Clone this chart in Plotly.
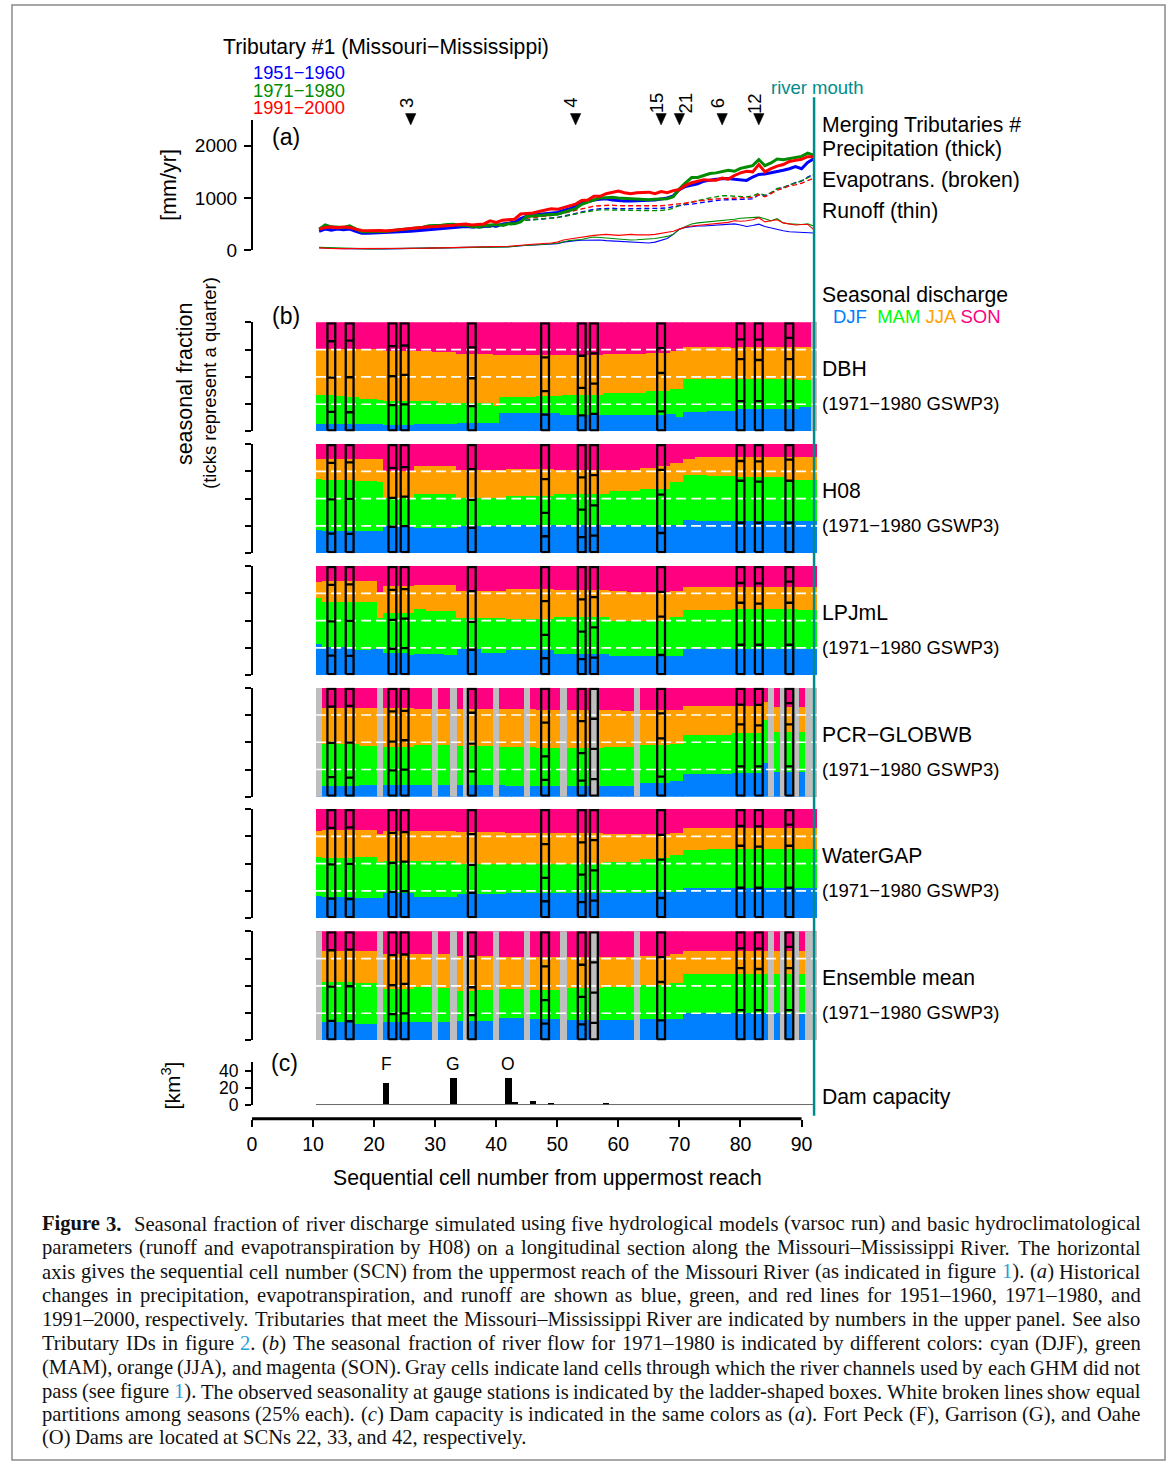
import plotly.graph_objects as go

W, H = 1171, 1476
def PX(p): return p / W
def PY(p): return 1 - p / H

# ---------------- data ----------------
scn = list(range(11, 93))

# (a) precipitation / evapotranspiration / runoff [mm/yr], SCN 11..92
prec_5160 = [360,400,380,400,390,400,360,320,320,325,
             330,330,340,345,350,360,370,380,395,400,
             410,420,430,440,450,440,440,450,470,460,
             495,510,530,600,650,670,680,700,710,720,
             760,790,840,900,930,960,975,985,960,945,
             940,940,940,950,955,960,980,1000,1040,1160,
             1220,1250,1270,1320,1340,1360,1365,1370,1360,1350,
             1335,1400,1450,1460,1480,1510,1530,1560,1600,1560,
             1680,1750]
prec_7180 = [400,483,444,444,432,464,413,349,349,349,
             362,356,375,387,400,413,425,438,464,464,
             476,489,495,476,476,451,444,464,476,489,
             476,502,502,540,641,654,667,667,679,686,
             718,749,794,876,921,972,1003,1003,1010,997,
             991,972,965,965,965,972,972,984,1022,1175,
             1289,1391,1391,1429,1467,1480,1505,1530,1511,1568,
             1594,1619,1733,1619,1670,1746,1733,1759,1784,1797,
             1860,1822]
prec_9100 = [400,430,440,425,440,430,400,375,370,375,
             375,365,380,390,400,410,425,430,445,450,
             455,460,475,490,500,480,485,500,560,530,
             570,580,590,690,700,710,740,760,790,780,
             810,850,880,950,960,1030,1030,1080,1110,1130,
             1100,1080,1100,1110,1110,1080,1120,1100,1140,1160,
             1240,1290,1320,1350,1340,1340,1380,1360,1430,1480,
             1510,1500,1640,1500,1560,1610,1640,1700,1720,1740,
             1790,1790]
et_5160 = [370,400,395,390,395,400,375,345,335,340,
           345,350,355,365,375,385,395,405,415,420,
           425,430,440,445,450,440,430,440,450,445,
           470,490,510,560,575,585,590,600,610,625,
           650,670,700,730,760,780,790,800,800,790,
           790,790,790,790,790,795,800,810,830,860,
           870,880,900,920,940,950,960,965,970,970,
           975,980,1060,1040,1090,1170,1200,1250,1290,1320,
           1400,1450]
et_7180 = [380,420,410,400,400,410,380,350,340,345,
           350,355,360,370,380,390,400,410,420,420,
           425,430,440,445,450,430,420,430,440,440,
           460,480,500,560,570,575,580,590,600,620,
           640,660,690,720,740,760,770,770,765,760,
           760,760,760,755,755,755,760,770,800,860,
           890,920,950,980,1000,1020,1040,1040,1030,1020,
           1020,1040,1090,1050,1100,1180,1200,1250,1280,1330,
           1390,1440]
et_9100 = [380,410,410,405,400,405,385,360,355,360,
           365,370,380,390,400,410,420,430,440,440,
           445,450,460,470,480,460,455,470,490,480,
           510,530,550,600,610,620,630,640,660,680,
           700,730,760,790,820,840,850,855,860,850,
           850,845,845,845,845,850,850,860,870,880,
           900,920,940,960,970,980,985,990,995,1000,
           1005,1010,1060,1020,1080,1150,1180,1230,1250,1280,
           1330,1380]
ro_5160 = [45,35,30,28,25,22,20,18,18,18,
           20,20,22,22,24,25,26,28,30,30,
           32,34,35,36,38,40,40,42,44,45,
           50,55,65,80,85,90,95,100,110,120,
           150,170,180,185,190,195,190,180,175,170,
           165,160,150,145,135,150,180,220,300,400,
           430,450,460,460,470,480,490,500,500,480,
           450,470,495,450,420,400,370,350,345,345,
           340,325]
ro_7180 = [50,45,40,35,30,30,25,20,20,20,
           22,22,24,25,26,27,28,30,30,32,
           33,35,36,38,40,40,42,44,46,48,
           55,60,70,85,90,95,100,110,120,130,
           160,180,190,200,230,250,240,230,220,210,
           200,190,195,200,210,220,240,260,300,400,
           450,500,520,530,540,550,560,570,590,610,
           620,620,630,600,560,600,520,500,490,490,
           500,460]
ro_9100 = [40,30,28,25,25,22,20,20,20,22,
           22,24,25,26,28,30,32,34,36,38,
           40,42,44,46,48,50,52,55,58,60,
           65,70,80,95,100,110,115,120,135,150,
           190,210,230,250,270,280,290,300,290,280,
           290,300,290,285,290,300,320,330,360,400,
           440,460,470,480,490,500,520,530,560,550,
           560,580,620,540,560,580,520,500,480,490,
           490,390]

trib_ids = ["3", "4", "15", "21", "6", "12"]
trib_scn = [26, 53, 67, 70, 77, 83]
trib_label_shift = [-5, -5, -5, 6, -5, -5]

# (b) cumulative seasonal fractions (DJF, DJF+MAM, DJF+MAM+JJA), SCN 11..92
dbh_djf = [0.064,0.064,0.064,0.064,0.064,0.064,0.064,0.064,0.064,0.064,
           0.064,0.058,0.058,0.058,0.058,0.058,0.064,0.064,0.064,0.064,
           0.064,0.064,0.064,0.076,0.076,0.076,0.076,0.076,0.076,0.076,
           0.167,0.167,0.167,0.167,0.167,0.167,0.167,0.167,0.167,0.167,
           0.152,0.152,0.152,0.152,0.152,0.152,0.152,0.152,0.145,0.145,
           0.145,0.145,0.145,0.145,0.145,0.145,0.145,0.155,0.155,0.130,
           0.173,0.173,0.173,0.173,0.182,0.182,0.182,0.182,0.182,0.206,
           0.206,0.206,0.206,0.206,0.206,0.206,0.206,0.206,0.206,0.218,
           0.218,0.218]
dbh_djf_mam = [0.327,0.327,0.327,0.321,0.321,0.309,0.309,0.297,0.297,0.297,
               0.282,0.273,0.273,0.273,0.273,0.273,0.279,0.279,0.279,0.279,
               0.261,0.261,0.261,0.255,0.255,0.255,0.255,0.255,0.255,0.230,
               0.312,0.312,0.312,0.312,0.312,0.312,0.321,0.321,0.321,0.321,
               0.333,0.333,0.333,0.333,0.333,0.333,0.333,0.345,0.345,0.345,
               0.352,0.352,0.352,0.352,0.370,0.370,0.370,0.370,0.388,0.388,
               0.479,0.479,0.479,0.479,0.479,0.479,0.479,0.479,0.479,0.479,
               0.479,0.479,0.479,0.479,0.479,0.479,0.479,0.479,0.479,0.473,
               0.473,0.473]
dbh_djf_mam_jja = [0.755,0.755,0.755,0.755,0.755,0.755,0.755,0.755,0.755,0.755,
                   0.755,0.736,0.736,0.736,0.736,0.736,0.733,0.733,0.733,0.721,
                   0.721,0.721,0.721,0.709,0.709,0.709,0.709,0.709,0.709,0.700,
                   0.700,0.700,0.700,0.700,0.700,0.700,0.700,0.700,0.700,0.700,
                   0.700,0.700,0.700,0.700,0.700,0.700,0.700,0.709,0.709,0.709,
                   0.709,0.709,0.709,0.709,0.715,0.715,0.715,0.715,0.733,0.733,
                   0.773,0.773,0.773,0.773,0.773,0.773,0.773,0.773,0.764,0.773,
                   0.773,0.773,0.773,0.773,0.773,0.773,0.773,0.773,0.773,0.773,
                   0.773,0.773]
dbh_gray = [92]

h08_djf = [0.215,0.206,0.206,0.206,0.206,0.206,0.206,0.206,0.206,0.206,
           0.206,0.248,0.248,0.248,0.248,0.248,0.227,0.227,0.227,0.227,
           0.227,0.227,0.227,0.248,0.248,0.248,0.248,0.248,0.248,0.248,
           0.248,0.258,0.258,0.258,0.258,0.258,0.258,0.258,0.258,0.258,
           0.258,0.258,0.258,0.258,0.258,0.258,0.258,0.258,0.258,0.258,
           0.258,0.258,0.258,0.258,0.258,0.258,0.258,0.258,0.258,0.258,
           0.306,0.306,0.297,0.297,0.297,0.297,0.297,0.297,0.297,0.297,
           0.297,0.297,0.297,0.297,0.297,0.297,0.297,0.297,0.297,0.297,
           0.297,0.297]
h08_djf_mam = [0.679,0.667,0.667,0.667,0.667,0.667,0.658,0.658,0.658,0.658,
               0.652,0.503,0.503,0.503,0.503,0.503,0.539,0.539,0.539,0.539,
               0.539,0.539,0.539,0.506,0.506,0.506,0.506,0.506,0.506,0.506,
               0.506,0.521,0.521,0.521,0.521,0.521,0.521,0.521,0.521,0.545,
               0.545,0.545,0.545,0.545,0.545,0.545,0.545,0.545,0.570,0.570,
               0.570,0.570,0.570,0.588,0.588,0.588,0.588,0.588,0.652,0.652,
               0.718,0.718,0.718,0.718,0.703,0.703,0.703,0.703,0.703,0.697,
               0.697,0.697,0.697,0.697,0.697,0.697,0.697,0.673,0.673,0.673,
               0.673,0.673]
h08_djf_mam_jja = [0.861,0.861,0.861,0.861,0.861,0.861,0.861,0.861,0.861,0.861,
                   0.861,0.755,0.755,0.755,0.755,0.755,0.794,0.794,0.794,0.794,
                   0.794,0.794,0.794,0.764,0.764,0.764,0.764,0.764,0.764,0.764,
                   0.764,0.767,0.767,0.767,0.767,0.767,0.767,0.767,0.767,0.761,
                   0.761,0.761,0.761,0.761,0.761,0.761,0.761,0.761,0.761,0.761,
                   0.761,0.761,0.761,0.779,0.779,0.779,0.794,0.794,0.827,0.827,
                   0.858,0.858,0.879,0.879,0.879,0.879,0.879,0.879,0.879,0.879,
                   0.879,0.879,0.879,0.879,0.879,0.879,0.879,0.879,0.879,0.879,
                   0.879,0.879]
h08_gray = []

lpj_djf = [0.288,0.258,0.258,0.258,0.258,0.258,0.227,0.227,0.227,0.242,
           0.242,0.206,0.206,0.206,0.206,0.188,0.197,0.197,0.197,0.197,
           0.197,0.182,0.182,0.236,0.236,0.236,0.236,0.206,0.206,0.206,
           0.206,0.227,0.227,0.227,0.227,0.227,0.227,0.227,0.227,0.197,
           0.197,0.197,0.197,0.197,0.197,0.197,0.197,0.197,0.173,0.173,
           0.173,0.173,0.173,0.173,0.173,0.179,0.179,0.179,0.179,0.179,
           0.236,0.236,0.236,0.236,0.236,0.236,0.236,0.236,0.236,0.236,
           0.236,0.236,0.236,0.236,0.236,0.236,0.236,0.236,0.236,0.236,
           0.236,0.236]
lpj_djf_mam = [0.703,0.667,0.667,0.667,0.667,0.667,0.667,0.667,0.667,0.667,
               0.521,0.567,0.567,0.567,0.567,0.567,0.606,0.606,0.591,0.591,
               0.591,0.591,0.591,0.521,0.521,0.521,0.521,0.521,0.521,0.521,
               0.521,0.515,0.515,0.515,0.515,0.515,0.515,0.515,0.515,0.530,
               0.530,0.530,0.530,0.530,0.530,0.530,0.530,0.530,0.500,0.500,
               0.500,0.500,0.500,0.500,0.500,0.500,0.500,0.500,0.530,0.530,
               0.597,0.597,0.597,0.597,0.597,0.597,0.597,0.597,0.606,0.606,
               0.606,0.606,0.606,0.606,0.606,0.606,0.606,0.606,0.606,0.594,
               0.594,0.594]
lpj_djf_mam_jja = [0.852,0.861,0.861,0.861,0.861,0.861,0.861,0.861,0.861,0.861,
                   0.758,0.818,0.818,0.818,0.818,0.818,0.824,0.824,0.824,0.824,
                   0.824,0.824,0.824,0.773,0.773,0.773,0.773,0.773,0.773,0.773,
                   0.773,0.788,0.788,0.788,0.788,0.788,0.788,0.788,0.788,0.782,
                   0.782,0.782,0.782,0.782,0.782,0.782,0.782,0.782,0.770,0.770,
                   0.770,0.758,0.758,0.758,0.758,0.758,0.758,0.758,0.770,0.770,
                   0.803,0.803,0.803,0.803,0.803,0.803,0.803,0.803,0.803,0.806,
                   0.806,0.806,0.806,0.806,0.806,0.806,0.806,0.806,0.806,0.806,
                   0.806,0.806]
lpj_gray = []

pcr_djf = [0.103,0.103,0.103,0.103,0.103,0.103,0.103,0.112,0.112,0.112,
           0.112,0.112,0.112,0.112,0.112,0.112,0.112,0.112,0.112,0.112,
           0.112,0.112,0.112,0.112,0.112,0.112,0.112,0.112,0.112,0.112,
           0.112,0.106,0.106,0.106,0.106,0.106,0.106,0.106,0.106,0.106,
           0.106,0.106,0.106,0.106,0.106,0.106,0.106,0.106,0.106,0.106,
           0.106,0.106,0.106,0.127,0.127,0.133,0.133,0.133,0.148,0.148,
           0.212,0.212,0.212,0.212,0.212,0.212,0.212,0.212,0.221,0.221,
           0.221,0.221,0.221,0.309,0.230,0.230,0.230,0.230,0.230,0.230,
           0.230,0.230]
pcr_djf_mam = [0.491,0.491,0.491,0.491,0.491,0.491,0.491,0.473,0.473,0.473,
               0.473,0.461,0.461,0.461,0.461,0.461,0.476,0.476,0.476,0.476,
               0.476,0.476,0.476,0.467,0.467,0.467,0.467,0.467,0.467,0.467,
               0.461,0.461,0.461,0.461,0.461,0.461,0.452,0.452,0.452,0.452,
               0.452,0.452,0.452,0.452,0.452,0.452,0.452,0.461,0.461,0.461,
               0.461,0.461,0.482,0.482,0.482,0.482,0.482,0.482,0.491,0.491,
               0.570,0.570,0.570,0.570,0.570,0.570,0.570,0.570,0.588,0.588,
               0.588,0.588,0.588,0.703,0.594,0.594,0.594,0.594,0.594,0.594,
               0.594,0.594]
pcr_djf_mam_jja = [0.815,0.815,0.815,0.815,0.815,0.815,0.815,0.815,0.815,0.815,
                   0.815,0.818,0.818,0.818,0.818,0.818,0.803,0.803,0.803,0.803,
                   0.803,0.803,0.803,0.803,0.803,0.803,0.803,0.803,0.803,0.803,
                   0.803,0.803,0.803,0.803,0.803,0.803,0.800,0.800,0.800,0.800,
                   0.800,0.800,0.800,0.800,0.800,0.800,0.800,0.800,0.800,0.800,
                   0.788,0.788,0.797,0.797,0.797,0.797,0.797,0.797,0.797,0.797,
                   0.833,0.833,0.833,0.833,0.833,0.833,0.833,0.833,0.833,0.833,
                   0.833,0.833,0.833,0.870,0.830,0.830,0.830,0.830,0.830,0.830,
                   0.830,0.830]
pcr_gray = [11, 21, 30, 33, 35, 40, 45, 51, 56, 63, 85, 87, 89, 91, 92]

wg_djf = [0.206,0.197,0.197,0.197,0.197,0.197,0.188,0.188,0.188,0.188,
          0.188,0.227,0.227,0.227,0.227,0.227,0.197,0.197,0.197,0.197,
          0.197,0.197,0.197,0.221,0.221,0.221,0.221,0.221,0.221,0.221,
          0.221,0.227,0.227,0.227,0.227,0.227,0.227,0.227,0.227,0.227,
          0.227,0.227,0.227,0.227,0.227,0.227,0.227,0.227,0.227,0.227,
          0.227,0.227,0.227,0.227,0.227,0.236,0.236,0.236,0.236,0.236,
          0.279,0.279,0.279,0.279,0.279,0.279,0.279,0.279,0.279,0.279,
          0.279,0.279,0.279,0.279,0.279,0.279,0.279,0.279,0.279,0.279,
          0.279,0.279]
wg_djf_mam = [0.561,0.552,0.552,0.552,0.552,0.552,0.558,0.558,0.558,0.558,
              0.515,0.521,0.521,0.521,0.521,0.521,0.524,0.524,0.524,0.524,
              0.524,0.524,0.524,0.500,0.500,0.500,0.500,0.500,0.500,0.500,
              0.500,0.494,0.494,0.494,0.494,0.494,0.494,0.494,0.494,0.494,
              0.494,0.494,0.494,0.494,0.494,0.494,0.494,0.515,0.515,0.515,
              0.515,0.515,0.515,0.539,0.539,0.539,0.552,0.552,0.576,0.576,
              0.627,0.627,0.627,0.627,0.636,0.636,0.636,0.636,0.636,0.636,
              0.636,0.636,0.636,0.636,0.636,0.636,0.636,0.636,0.636,0.636,
              0.636,0.636]
wg_djf_mam_jja = [0.797,0.806,0.806,0.806,0.806,0.806,0.806,0.806,0.806,0.806,
                  0.773,0.794,0.794,0.794,0.794,0.794,0.797,0.797,0.797,0.797,
                  0.797,0.797,0.797,0.788,0.788,0.788,0.788,0.788,0.788,0.788,
                  0.788,0.779,0.779,0.779,0.779,0.779,0.779,0.779,0.779,0.779,
                  0.779,0.779,0.779,0.779,0.779,0.779,0.779,0.770,0.770,0.770,
                  0.770,0.770,0.770,0.770,0.770,0.770,0.770,0.770,0.779,0.779,
                  0.830,0.830,0.830,0.830,0.830,0.830,0.830,0.830,0.830,0.830,
                  0.830,0.830,0.830,0.830,0.830,0.830,0.830,0.830,0.830,0.830,
                  0.830,0.830]
wg_gray = []

ens_djf = [0.167,0.167,0.167,0.167,0.167,0.167,0.146,0.146,0.146,0.146,
           0.146,0.167,0.167,0.167,0.167,0.167,0.167,0.167,0.167,0.167,
           0.167,0.167,0.167,0.176,0.176,0.176,0.176,0.176,0.176,0.176,
           0.200,0.200,0.200,0.200,0.200,0.191,0.191,0.191,0.191,0.191,
           0.191,0.182,0.182,0.182,0.182,0.182,0.182,0.182,0.182,0.182,
           0.182,0.182,0.182,0.191,0.191,0.191,0.191,0.191,0.191,0.191,
           0.246,0.246,0.246,0.246,0.246,0.246,0.246,0.246,0.246,0.246,
           0.246,0.246,0.246,0.246,0.246,0.246,0.246,0.246,0.246,0.246,
           0.246,0.246]
ens_djf_mam = [0.532,0.532,0.532,0.532,0.532,0.532,0.526,0.526,0.526,0.526,
               0.526,0.465,0.465,0.465,0.465,0.465,0.489,0.489,0.489,0.489,
               0.480,0.480,0.480,0.450,0.450,0.450,0.456,0.456,0.456,0.456,
               0.465,0.465,0.465,0.465,0.465,0.456,0.456,0.456,0.456,0.456,
               0.456,0.480,0.480,0.480,0.480,0.480,0.480,0.486,0.486,0.486,
               0.486,0.486,0.486,0.502,0.502,0.502,0.502,0.502,0.526,0.526,
               0.602,0.602,0.602,0.602,0.602,0.602,0.602,0.602,0.602,0.602,
               0.602,0.602,0.602,0.602,0.602,0.602,0.602,0.602,0.602,0.602,
               0.602,0.602]
ens_djf_mam_jja = [0.818,0.818,0.818,0.818,0.818,0.818,0.818,0.818,0.818,0.818,
                   0.818,0.790,0.790,0.790,0.790,0.790,0.793,0.793,0.793,0.793,
                   0.793,0.793,0.793,0.769,0.769,0.769,0.769,0.769,0.769,0.769,
                   0.763,0.763,0.763,0.763,0.763,0.763,0.763,0.763,0.763,0.763,
                   0.763,0.763,0.763,0.763,0.763,0.763,0.763,0.763,0.763,0.763,
                   0.763,0.763,0.763,0.769,0.769,0.769,0.769,0.769,0.790,0.790,
                   0.818,0.818,0.818,0.818,0.818,0.818,0.818,0.818,0.818,0.818,
                   0.818,0.818,0.818,0.818,0.818,0.818,0.818,0.818,0.818,0.818,
                   0.818,0.818]
ens_gray = [11, 21, 30, 33, 35, 40, 45, 51, 56, 63, 85, 87, 89, 91, 92]

# observed seasonality at gauge stations (ladder boxes)
obs_scn = [13, 16, 23, 25, 36, 48, 54, 56, 67, 80, 83, 88]
obs_djf = [0.180, 0.176, 0.242, 0.248, 0.233, 0.155, 0.148, 0.161, 0.185, 0.279, 0.279, 0.279]
obs_djf_mam = [0.494, 0.497, 0.506, 0.518, 0.488, 0.370, 0.400, 0.439, 0.536, 0.664, 0.655, 0.664]
obs_djf_mam_jja = [0.827, 0.833, 0.782, 0.788, 0.770, 0.679, 0.694, 0.715, 0.764, 0.845, 0.842, 0.858]

# (c) dam capacity [km3]
dam_scn = [22, 33, 42, 43, 46, 49, 58]
dam_cap = [25, 31, 31, 2.5, 4.5, 1.0, 0.5]
dam_labels = ["F", "G", "O"]
dam_label_scn = [22, 33, 42]

models = ["DBH", "H08", "LPJmL", "PCR\u2212GLOBWB", "WaterGAP", "Ensemble mean"]
model_data = [
    (dbh_djf, dbh_djf_mam, dbh_djf_mam_jja, dbh_gray),
    (h08_djf, h08_djf_mam, h08_djf_mam_jja, h08_gray),
    (lpj_djf, lpj_djf_mam, lpj_djf_mam_jja, lpj_gray),
    (pcr_djf, pcr_djf_mam, pcr_djf_mam_jja, pcr_gray),
    (wg_djf, wg_djf_mam, wg_djf_mam_jja, wg_gray),
    (ens_djf, ens_djf_mam, ens_djf_mam_jja, ens_gray),
]
for arr in [prec_5160, prec_7180, prec_9100, et_5160, et_7180, et_9100,
            ro_5160, ro_7180, ro_9100] + [a for m in model_data for a in m[:3]]:
    assert len(arr) == len(scn), len(arr)

# ---------------- styles ----------------
C_DJF, C_MAM, C_JJA, C_SON = "#0080ff", "#00ff00", "#ffa000", "#ff0080"
C_GRAY = "#bebebe"
C_5160, C_7180, C_9100 = "#0000ff", "#008b00", "#ff0000"
C_MOUTH = "#008b8b"
FONT = "Liberation Sans"
SERIF = "Liberation Serif"

fig = go.Figure()

# ---------------- panel (a) ----------------
for vals, col in [(ro_5160, C_5160), (ro_7180, C_7180), (ro_9100, C_9100)]:
    fig.add_trace(go.Scatter(x=scn, y=vals, mode="lines", line=dict(color=col, width=1.1),
                             xaxis="x", yaxis="y", showlegend=False))
for vals, col in [(et_5160, C_5160), (et_7180, C_7180), (et_9100, C_9100)]:
    fig.add_trace(go.Scatter(x=scn, y=vals, mode="lines",
                             line=dict(color=col, width=1.4, dash="5px,3px"),
                             xaxis="x", yaxis="y", showlegend=False))
for vals, col in [(prec_5160, C_5160), (prec_7180, C_7180), (prec_9100, C_9100)]:
    fig.add_trace(go.Scatter(x=scn, y=vals, mode="lines", line=dict(color=col, width=3),
                             xaxis="x", yaxis="y", showlegend=False))

A_TOP_PX, A_BOT_PX = 120, 251
A_MAX = 2495

# ---------------- panel (b) ----------------
panel_tops = [324, 446.7, 569.7, 692.3, 814.7, 938]
PANEL_H = 110
layout_axes = {}
for i, (name, (c1, c2, c3, gray)) in enumerate(zip(models, model_data)):
    yax = "y%d" % (i + 2)
    djf = c1
    mam = [b - a for a, b in zip(c1, c2)]
    jja = [b - a for a, b in zip(c2, c3)]
    son = [1 - a for a in c3]
    for base, h, col in [([0] * len(scn), djf, C_DJF), (c1, mam, C_MAM),
                         (c2, jja, C_JJA), (c3, son, C_SON)]:
        fig.add_trace(go.Bar(x=scn, y=h, base=base, width=1.04,
                             marker=dict(color=col, line=dict(width=0)),
                             xaxis="x", yaxis=yax, showlegend=False))
    if gray:
        fig.add_trace(go.Bar(x=gray, y=[1] * len(gray), base=[0] * len(gray), width=1.04,
                             marker=dict(color=C_GRAY, line=dict(width=0)),
                             xaxis="x", yaxis=yax, showlegend=False))
    dx, dy = [], []
    for q in (0.25, 0.5, 0.75):
        dx += [10.5, 92.6, None]
        dy += [q, q, None]
    fig.add_trace(go.Scatter(x=dx, y=dy, mode="lines",
                             line=dict(color="white", width=1.6, dash="10px,5px"),
                             xaxis="x", yaxis=yax, showlegend=False))
    bx, by = [], []
    for k, d1, d2, d3 in zip(obs_scn, obs_djf, obs_djf_mam, obs_djf_mam_jja):
        x0, x1 = k - 0.64, k + 0.64
        bx += [x0, x1, x1, x0, x0, None]
        by += [0.01, 0.01, 0.99, 0.99, 0.01, None]
        for d in (d1, d2, d3):
            bx += [x0, x1, None]
            by += [d, d, None]
    fig.add_trace(go.Scatter(x=bx, y=by, mode="lines", line=dict(color="black", width=2.3),
                             xaxis="x", yaxis=yax, showlegend=False))
    top = panel_tops[i]
    layout_axes["yaxis%d" % (i + 2)] = dict(
        domain=[PY(top + PANEL_H), PY(top)], range=[0, 1], anchor="free", position=PX(248),
        tickvals=[0, 0.25, 0.5, 0.75, 1], showticklabels=False, ticks="outside",
        ticklen=6, tickwidth=2, tickcolor="black", showline=True, linewidth=2,
        linecolor="black", showgrid=False, zeroline=False, fixedrange=True)

# ---------------- panel (c) ----------------
fig.add_trace(go.Scatter(x=[10.5, 92], y=[0, 0], mode="lines",
                         line=dict(color="#555555", width=1), xaxis="x", yaxis="y8",
                         showlegend=False))
fig.add_trace(go.Bar(x=dam_scn, y=dam_cap, width=1.0, marker=dict(color="black", line=dict(width=0)),
                     xaxis="x", yaxis="y8", showlegend=False))

# ---------------- axes ----------------
X0_PX, PX_PER_UNIT = 248, 6.133
X_RANGE = [0, 93]
fig.update_layout(
    width=W, height=H, margin=dict(l=0, r=0, t=0, b=0),
    paper_bgcolor="white", plot_bgcolor="rgba(0,0,0,0)",
    barmode="overlay", bargap=0, showlegend=False,
    font=dict(family=FONT, color="black", size=19),
    xaxis=dict(domain=[PX(X0_PX), PX(X0_PX + X_RANGE[1] * PX_PER_UNIT)], range=X_RANGE,
               anchor="free", position=PY(1127), showline=False, showgrid=False,
               zeroline=False, tickvals=list(range(0, 91, 10)), ticks="outside",
               ticklen=7, tickwidth=2, tickcolor="black", tickfont=dict(size=19.5),
               ticklabelstandoff=1, fixedrange=True),
    yaxis=dict(domain=[PY(A_BOT_PX), PY(A_TOP_PX)], range=[0, A_MAX], anchor="free",
               position=PX(248), tickvals=[0, 1000, 2000], ticks="outside", ticklen=7,
               tickwidth=2, tickcolor="black", showline=True, linewidth=2, linecolor="black",
               showgrid=False, zeroline=False, tickfont=dict(size=19), ticklabelstandoff=3,
               fixedrange=True),
    yaxis8=dict(domain=[PY(1113.2), PY(1070)], range=[-0.6, 50.7], anchor="free",
                position=PX(248), tickvals=[0, 20, 40], ticks="outside", ticklen=6,
                tickwidth=2, tickcolor="black", showline=True, linewidth=2, linecolor="black",
                showgrid=False, zeroline=False, tickfont=dict(size=17.5), ticklabelstandoff=3,
                fixedrange=True),
    **layout_axes,
)

# ---------------- shapes ----------------
shapes = [
    dict(type="line", xref="x", yref="paper", x0=0, x1=90, y0=PY(1127), y1=PY(1127),
         line=dict(color="black", width=3)),
    dict(type="line", xref="x", yref="paper", x0=92.05, x1=92.05, y0=PY(1124), y1=PY(97),
         line=dict(color=C_MOUTH, width=2.5)),
    dict(type="rect", xref="paper", yref="paper", x0=PX(7), x1=PX(1165), y0=PY(1471), y1=PY(4),
         line=dict(color="#8a8a8a", width=1.5)),
]
TRI_HALF = 0.85
for ts in trib_scn:
    shapes.append(dict(type="path", xref="x", yref="paper",
                       path="M %g,%g L %g,%g L %g,%g Z" % (ts - TRI_HALF, PY(113.5), ts + TRI_HALF,
                                                        PY(113.5), ts, PY(125)),
                       fillcolor="black", line=dict(color="black", width=0.5)))
fig.update_layout(shapes=shapes)

# ---------------- annotations ----------------
ann = []
def txt(x, y, s, size=20, color="black", xanchor="left", angle=0, family=FONT, xref="paper", xshift=0):
    ann.append(dict(x=x if xref != "paper" else PX(x), y=PY(y), xref=xref, yref="paper", text=s,
                    showarrow=False, xanchor=xanchor, yanchor="middle", textangle=angle,
                    xshift=xshift, borderpad=0, font=dict(size=size, color=color, family=family)))

BIG = 21.2
SMALL = 18.5
txt(218, 46, "Tributary #1 (Missouri\u2212Mississippi)", BIG)
txt(342, 72, "1951\u22121960", 18.3, C_5160, "right")
txt(342, 90, "1971\u22121980", 18.3, C_7180, "right")
txt(342, 107, "1991\u22122000", 18.3, C_9100, "right")
txt(816, 87, "river mouth", SMALL, C_MOUTH, "center")
for tid, ts, sh in zip(trib_ids, trib_scn, trib_label_shift):
    txt(ts, 103, tid, 18.5, "black", "center", -90, xref="x", xshift=sh)
txt(282, 137, "(a)", 23, "black", "center")
txt(165, 185, "[mm/yr]", 21.5, "black", "center", -90)
txt(819, 125, "Merging Tributaries #", BIG)
txt(819, 149, "Precipitation (thick)", BIG)
txt(819, 180, "Evapotrans. (broken)", BIG)
txt(819, 212, "Runoff (thin)", BIG)
txt(819, 296, "Seasonal discharge", BIG)
txt(831, 318, "<span style='color:%s'>DJF</span>  <span style='color:%s'>MAM</span> "
              "<span style='color:%s'>JJA</span> <span style='color:%s'>SON</span>"
    % (C_DJF, C_MAM, C_JJA, C_SON), 18.5)
txt(282, 318, "(b)", 23, "black", "center")
txt(181, 386, "seasonal fraction", 21.5, "black", "center", -90)
txt(206, 385, "(ticks represent a quarter)", 18.5, "black", "center", -90)
for i, name in enumerate(models):
    top = panel_tops[i]
    txt(819, top + 47, name, BIG)
    txt(819, top + 82, "(1971\u22121980 GSWP3)", SMALL)
txt(281, 1071, "(c)", 23, "black", "center")
txt(167, 1093, "[km<sup>3</sup>]", 21, "black", "center", -90)
for lab, ls in zip(dam_labels, dam_label_scn):
    txt(ls, 1072, lab, 17.5, "black", "center", xref="x")
txt(819, 1105, "Dam capacity", BIG)
txt(545, 1187, "Sequential cell number from uppermost reach", BIG, "black", "center")

# ---------------- caption (justified, word by word) ----------------
LINK = "#2a9fd6"
caption = [
    "<b>Figure</b> <b>3.</b>  Seasonal fraction of river discharge simulated using five hydrological models (varsoc run) and basic hydroclimatological",
    "parameters (runoff and evapotranspiration by H08) on a longitudinal section along the Missouri\u2013Mississippi River. The horizontal",
    "axis gives the sequential cell number (SCN) from the uppermost reach of the Missouri River (as indicated in figure {1}). (<i>a</i>) Historical",
    "changes in precipitation, evapotranspiration, and runoff are shown as blue, green, and red lines for 1951\u20131960, 1971\u20131980, and",
    "1991\u20132000, respectively. Tributaries that meet the Missouri\u2013Mississippi River are indicated by numbers in the upper panel. See also",
    "Tributary IDs in figure {2}. (<i>b</i>) The seasonal fraction of river flow for 1971\u20131980 is indicated by different colors: cyan (DJF), green",
    "(MAM), orange (JJA), and magenta (SON). Gray cells indicate land cells through which the river channels used by each GHM did not",
    "pass (see figure {1}). The observed seasonality at gauge stations is indicated by the ladder-shaped boxes. White broken lines show equal",
    "partitions among seasons (25% each). (<i>c</i>) Dam capacity is indicated in the same colors as (<i>a</i>). Fort Peck (F), Garrison (G), and Oahe",
    "(O) Dams are located at SCNs 22, 33, and 42, respectively.",
]
cap_y = [1233, 1257, 1281, 1305, 1329, 1353, 1378, 1402, 1425, 1448]
CAP_L, CAP_R, CAP_SIZE = 36, 1139, 20.6

TIMES = {' ': 250, '(': 333, ')': 333, ',': 250, '.': 250, '-': 333, ':': 278, '%': 833,
         '\u2013': 500, '{': 0, '}': 0,
         'A': 722, 'B': 667, 'C': 667, 'D': 722, 'E': 611, 'F': 556, 'G': 722, 'H': 722,
         'I': 333, 'J': 389, 'K': 722, 'L': 611, 'M': 889, 'N': 722, 'O': 722, 'P': 556,
         'Q': 722, 'R': 667, 'S': 556, 'T': 611, 'U': 722, 'V': 722, 'W': 944, 'X': 722,
         'Y': 722, 'Z': 611,
         'a': 444, 'b': 500, 'c': 444, 'd': 500, 'e': 444, 'f': 333, 'g': 500, 'h': 500,
         'i': 278, 'j': 278, 'k': 500, 'l': 278, 'm': 778, 'n': 500, 'o': 500, 'p': 500,
         'q': 500, 'r': 333, 's': 389, 't': 278, 'u': 500, 'v': 500, 'w': 722, 'x': 500,
         'y': 500, 'z': 444}
TIMES_B = {'F': 611, 'i': 278, 'g': 500, 'u': 556, 'r': 444, 'e': 444, '3': 500, '.': 250}
TIMES_I = {'a': 500, 'b': 500, 'c': 444}

def word_width(wd, size):
    w, bold, ital, i = 0, False, False, 0
    while i < len(wd):
        if wd[i] == '<':
            j = wd.index('>', i)
            tag = wd[i + 1:j]
            bold = True if tag == 'b' else (False if tag == '/b' else bold)
            ital = True if tag == 'i' else (False if tag == '/i' else ital)
            i = j + 1
            continue
        ch = wd[i]
        if ch.isdigit() and not bold:
            w += 500
        elif bold:
            w += TIMES_B.get(ch, TIMES.get(ch, 500))
        elif ital:
            w += TIMES_I.get(ch, TIMES.get(ch, 500))
        else:
            w += TIMES.get(ch, 500)
        i += 1
    return w * size / 1000.0

def render_word(wd):
    out = wd
    for n in ("1", "2"):
        out = out.replace("{%s}" % n, "<span style='color:%s'>%s</span>" % (LINK, n))
    return out

for li, (line, y) in enumerate(zip(caption, cap_y)):
    words = line.split(" ")
    widths = [word_width(w, CAP_SIZE) for w in words]
    last = li == len(caption) - 1
    if last:
        gap = TIMES[' '] * CAP_SIZE / 1000.0
    else:
        gap = (CAP_R - CAP_L - sum(widths)) / (len(words) - 1)
    x = CAP_L
    for w, wd in zip(words, widths):
        if w:
            ann.append(dict(x=PX(x), y=PY(y), xref="paper", yref="paper", text=render_word(w),
                            showarrow=False, xanchor="left", yanchor="middle", borderpad=0,
                            font=dict(size=CAP_SIZE, color="#111111", family=SERIF)))
        x += wd + gap

fig.update_layout(annotations=ann)
fig.write_html("out.html")
